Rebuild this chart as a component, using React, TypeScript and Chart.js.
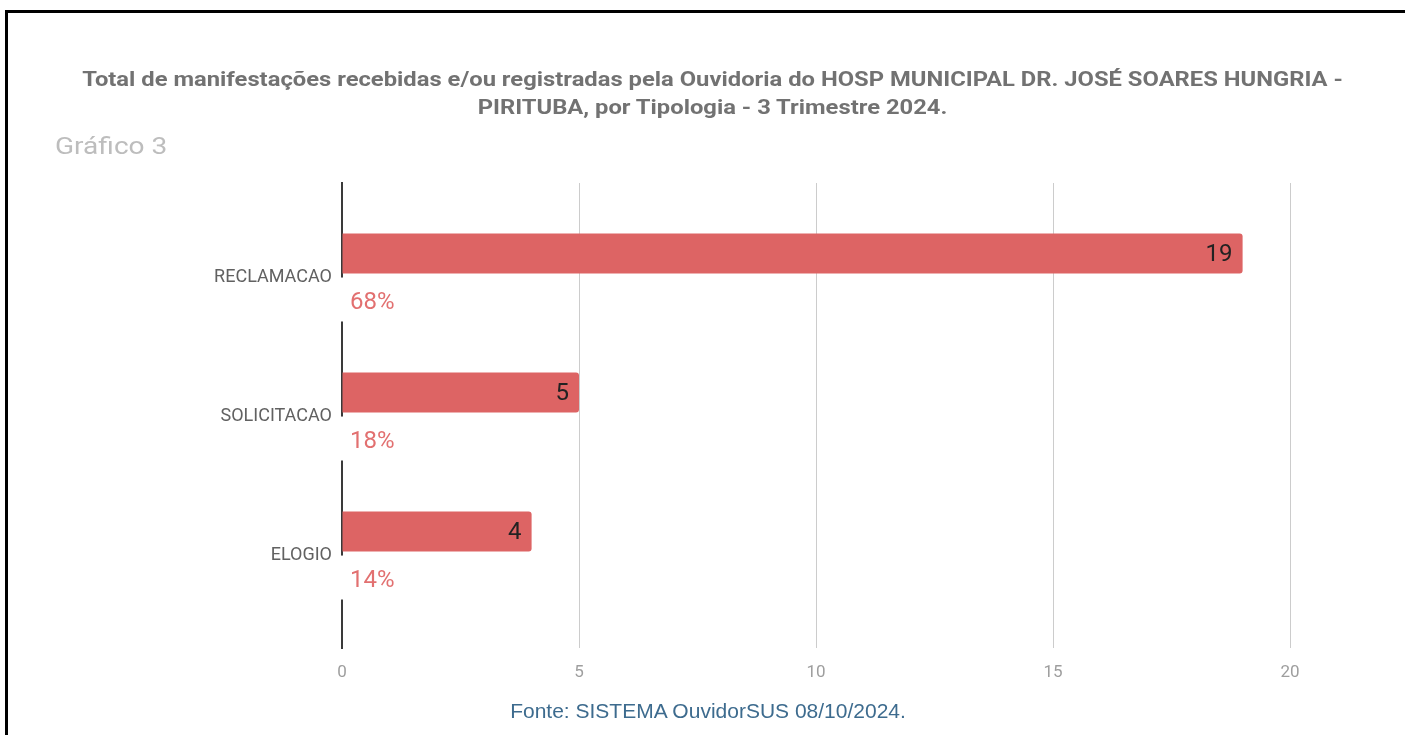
import React, { useEffect, useRef } from 'react';
import { Chart, registerables } from 'chart.js';

Chart.register(...registerables);

const categories = ['RECLAMACAO', 'SOLICITACAO', 'ELOGIO'];
const totals = [19, 5, 4];
const percentLabels = ['68%', '18%', '14%'];
const xTickValues = [0, 5, 10, 15, 20];
const titleLines = [
  'Total de manifestações recebidas e/ou registradas pela Ouvidoria do HOSP MUNICIPAL DR. JOSÉ SOARES HUNGRIA -',
  'PIRITUBA, por Tipologia - 3 Trimestre 2024.',
];
const subtitleText = 'Gráfico 3';
const sourceText = 'Fonte: SISTEMA OuvidorSUS 08/10/2024.';

const BAR_COLOR = '#dd6464';
const PCT_COLOR = '#e27070';

const labelPlugin = {
  id: 'barLabels',
  afterDatasetsDraw(chart: any) {
    const ctx = chart.ctx;
    const m0 = chart.getDatasetMeta(0);
    const m1 = chart.getDatasetMeta(1);
    ctx.save();
    ctx.font = '24px Roboto';
    ctx.textBaseline = 'middle';
    m0.data.forEach((bar: any, i: number) => {
      const { x, y } = bar.getProps(['x', 'y'], true);
      ctx.textAlign = 'right';
      ctx.fillStyle = '#222222';
      ctx.fillText(String(totals[i]), x - 10, y + 1);
    });
    m1.data.forEach((bar: any, i: number) => {
      const { x, y, height } = bar.getProps(['x', 'y', 'height'], true);
      ctx.fillStyle = '#ffffff';
      ctx.fillRect(x - 4, y - height / 2 - 4, 8, height + 4);
      ctx.textAlign = 'left';
      ctx.fillStyle = PCT_COLOR;
      ctx.fillText(percentLabels[i], x + 8, y + 1);
    });
    ctx.restore();
  },
};

function ChartCanvas() {
  const ref = useRef<HTMLCanvasElement | null>(null);
  useEffect(() => {
    if (!ref.current) return;
    const chart = new Chart(ref.current, {
      type: 'bar',
      data: {
        datasets: [
          {
            data: totals.map((v, i) => ({ x: v, y: i })) as any,
            backgroundColor: BAR_COLOR,
            borderRadius: 3,
          },
          {
            data: categories.map((_, i) => ({ x: 0, y: i })) as any,
            backgroundColor: 'rgba(0,0,0,0)',
          },
        ],
      },
      options: {
        indexAxis: 'y',
        animation: false,
        responsive: false,
        maintainAspectRatio: false,
        events: [],
        layout: { padding: { top: 183, right: 115, left: 0, bottom: 0 } },
        datasets: { bar: { categoryPercentage: 0.69, barPercentage: 0.833 } },
        plugins: {
          legend: { display: false },
          tooltip: { enabled: false },
          title: { display: false },
        },
        scales: {
          x: {
            type: 'linear',
            min: 0,
            max: 20,
            afterBuildTicks: (s: any) => {
              s.ticks = xTickValues.map((v) => ({ value: v }));
            },
            afterFit: (s: any) => {
              s.height = 87;
            },
            grid: {
              color: (c: any) => (c.tick && c.tick.value === 0 ? 'rgba(0,0,0,0)' : '#cccccc'),
              drawTicks: false,
              lineWidth: 1,
            },
            border: { display: false },
            ticks: { padding: 15, color: '#9e9e9e', font: { family: 'Roboto', size: 17 } },
          },
          y: {
            type: 'linear',
            reverse: true,
            offset: false,
            min: -0.68,
            max: 2.665,
            afterBuildTicks: (s: any) => {
              s.ticks = categories.map((_, i) => ({ value: i }));
            },
            afterFit: (s: any) => {
              s.width = 342;
            },
            grid: { display: false, drawTicks: false, offset: false },
            border: { display: true, color: '#3a3a3a', width: 2 },
            ticks: {
              autoSkip: false,
              padding: 10,
              color: '#616161',
              font: { family: 'Roboto', size: 18 },
              callback: (v: any) => categories[v as number],
            },
          },
        },
      } as any,
      plugins: [labelPlugin],
    });
    return () => chart.destroy();
  }, []);
  return (
    <canvas
      ref={ref}
      width={1405}
      height={735}
      style={{ position: 'absolute', left: 0, top: 0, width: 1405, height: 735 }}
    />
  );
}

export default function App() {
  return (
    <div
      style={{
        position: 'fixed',
        left: 0,
        top: 0,
        width: 1405,
        height: 735,
        overflow: 'hidden',
        background: '#ffffff',
      }}
    >
      <ChartCanvas />
      <div
        style={{
          position: 'absolute',
          left: 5,
          top: 10,
          width: 1600,
          height: 900,
          borderTop: '3px solid #000',
          borderLeft: '3px solid #000',
          pointerEvents: 'none',
        }}
      />
      <div
        style={{
          position: 'absolute',
          left: 10,
          top: 65,
          width: 1405,
          textAlign: 'center',
          fontFamily: 'Roboto',
          fontWeight: 700,
          fontSize: 21,
          lineHeight: '28px',
          color: '#727272',
          transform: 'scaleX(1.132)',
          transformOrigin: '50% 50%',
        }}
      >
        {titleLines.map((l) => (
          <div key={l}>{l}</div>
        ))}
      </div>
      <div
        style={{
          position: 'absolute',
          left: 55,
          top: 132,
          fontFamily: 'Roboto',
          fontSize: 23,
          lineHeight: '30px',
          color: '#bdbdbd',
          transform: 'scaleX(1.22)',
          transformOrigin: '0 50%',
        }}
      >
        {subtitleText}
      </div>
      <div
        style={{
          position: 'absolute',
          left: 8,
          top: 698,
          width: 1400,
          textAlign: 'center',
          fontFamily: '"Liberation Sans", Arial, sans-serif',
          fontSize: 21,
          lineHeight: '26px',
          color: '#3d6b8e',
        }}
      >
        {sourceText}
      </div>
    </div>
  );
}
